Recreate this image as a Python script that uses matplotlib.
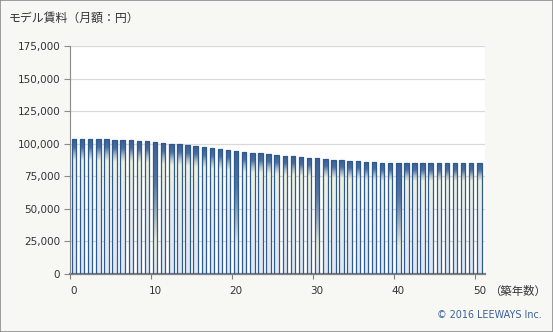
import numpy as np
import matplotlib
matplotlib.use("Agg")
import matplotlib.pyplot as plt
from matplotlib.colors import LinearSegmentedColormap
from matplotlib.patches import Rectangle
from matplotlib.ticker import FuncFormatter
from matplotlib.transforms import ScaledTranslation

plt.rcParams['font.family'] = ['DejaVu Sans', 'Noto Sans CJK JP']

years = list(range(0, 51))
rent = [103400, 103400, 103400, 103400, 103400, 102600, 102600, 102600, 101800, 101800,
        101000, 100300, 99500, 99500, 98700, 98000, 97200, 96400, 95700, 94900,
        94100, 93300, 92600, 92600, 91900, 91100, 90300, 90300, 89600, 88800,
        88800, 88000, 87300, 87300, 86500, 86500, 85700, 85700, 85000, 85000,
        85000, 85000, 85000, 85000, 85000, 85000, 85000, 85000, 85000, 85000,
        85000]
x_ticks = [0, 10, 20, 30, 40, 50]
y_ticks = [0, 25000, 50000, 75000, 100000, 125000, 150000, 175000]
title = "モデル賃料（月額：円）"
x_label = "（築年数）"
credit = "© 2016 LEEWAYS Inc."

fig = plt.figure(figsize=(5.53, 3.32), dpi=100)
fig.patch.set_facecolor('#f7f8f3')
ax = fig.add_axes([70/553, 1-274/332, (485-70)/553, (274-46)/332])
ax.set_facecolor('white')

cm_normal = LinearSegmentedColormap.from_list('n', [
    (0.0, '#3a6196'), (0.06, '#4a6e9f'), (0.11, '#a9b9c6'), (0.16, '#eef2dc'),
    (0.45, '#e6ecec'), (1.0, '#dfe7f3')])
cm_special = LinearSegmentedColormap.from_list('s', [
    (0.0, '#3a6196'), (0.3, '#5575a3'), (0.55, '#a3b3bf'), (0.75, '#e9eed8'), (1.0, '#dfe7f3')])
grad = np.linspace(0, 1, 256).reshape(-1, 1)

w = 0.55
for yr, v in zip(years, rent):
    xc = yr + 0.5
    cm = cm_special if (yr % 10 == 0 and yr not in (0, 50)) else cm_normal
    ax.imshow(grad, cmap=cm, extent=(xc - w/2, xc + w/2, 0, v), aspect='auto',
              origin='upper', zorder=2, interpolation='bilinear')
    ax.add_patch(Rectangle((xc - w/2, 0), w, v, facecolor='none', edgecolor='#2e5a8f',
                           linewidth=0.9, zorder=3))

ax.set_xlim(0, 51.2)
ax.set_ylim(0, 175000)
ax.set_xticks(x_ticks)
ax.set_yticks(y_ticks)
ax.yaxis.set_major_formatter(FuncFormatter(lambda v, p: f"{int(v):,}"))
ax.grid(axis='y', color='#d9d9d9', linewidth=0.9, zorder=0)
ax.set_axisbelow(True)
for s in ['top', 'right']:
    ax.spines[s].set_visible(False)
ax.spines['left'].set_color('#8a8a8a')
ax.spines['bottom'].set_color('#808080')
ax.spines['bottom'].set_linewidth(1.6)
ax.tick_params(axis='y', length=4, color='#8a8a8a', labelsize=7.5, labelcolor='#333333', pad=3)
ax.tick_params(axis='x', length=3.5, color='#808080', labelsize=7.5, labelcolor='#333333', pad=5)
off = ScaledTranslation(4/100, 0, fig.dpi_scale_trans)
for lab in ax.get_xticklabels():
    lab.set_transform(lab.get_transform() + off)

fig.text(9/553, 1-18/332, title, fontsize=8.6, color='#333333', va='center', ha='left',
         family=['Noto Sans CJK JP', 'DejaVu Sans'])
fig.text(489/553, 1-291/332, x_label, fontsize=8.2, color='#333333', va='center', ha='left',
         family=['Noto Sans CJK JP', 'DejaVu Sans'])
fig.text(542/553, 1-315/332, credit, fontsize=6.9, color='#3b5f9b', va='center', ha='right')

fig.add_artist(Rectangle((0, 0), 1, 1, transform=fig.transFigure, facecolor='none',
                         edgecolor='#8c8c8c', linewidth=1.2))

fig.savefig('out.png', dpi=100, facecolor=fig.get_facecolor())
